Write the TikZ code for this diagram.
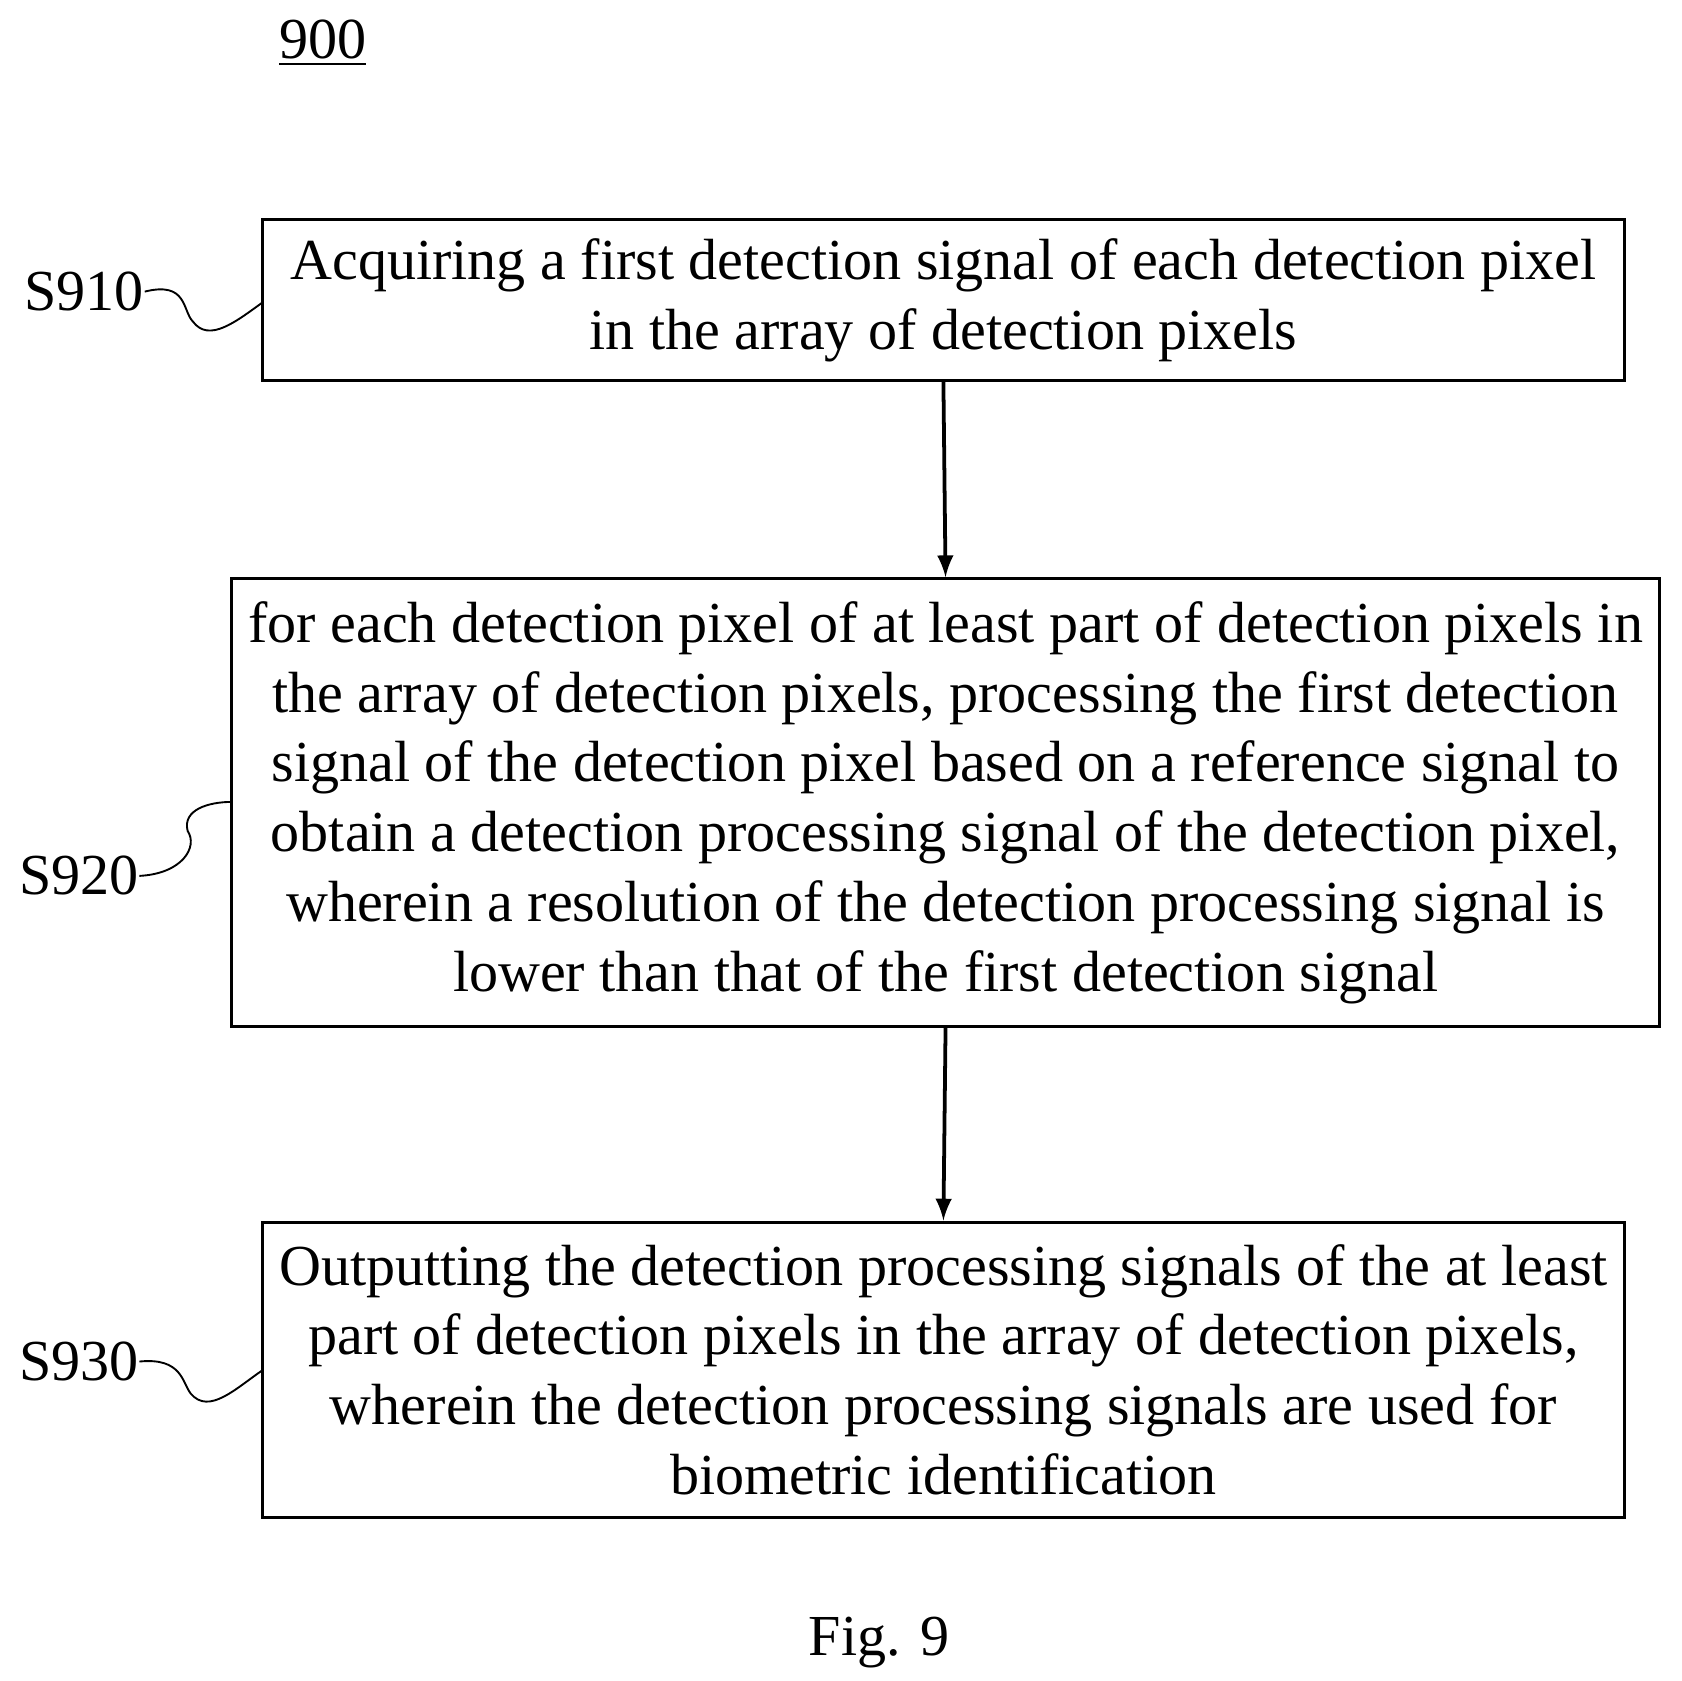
\documentclass[tikz,border=0pt]{standalone}
\usepackage{fontspec}
\setmainfont{Liberation Serif}
\begin{document}
\begin{tikzpicture}[x=0.01cm,y=-0.01cm,
  box/.style={draw,line width=0.8pt,align=center,inner sep=0pt,font=\fontsize{15.4pt}{18.5pt}\selectfont},
  lab/.style={inner sep=0pt,font=\fontsize{15.4pt}{16pt}\selectfont},
  arr/.style={-latex,line width=1pt},
  wav/.style={line width=0.5pt}]
\useasboundingbox (0,0) rectangle (1568,1568);
\node[lab] (t) at (301,40) {\underline{900}};
\node[box,minimum width=12.7cm,minimum height=1.5cm] (b1) at (880,280) {Acquiring a first detection signal of each detection pixel\\in the array of detection pixels};
\node[box,minimum width=13.32cm,minimum height=4.17cm] (b2) at (882,748.5) {for each detection pixel of at least part of detection pixels in\\the array of detection pixels, processing the first detection\\signal of the detection pixel based on a reference signal to\\obtain a detection processing signal of the detection pixel,\\wherein a resolution of the detection processing signal is\\lower than that of the first detection signal};
\node[box,minimum width=12.7cm,minimum height=2.75cm] (b3) at (880,1277.5) {Outputting the detection processing signals of the at least\\part of detection pixels in the array of detection pixels,\\wherein the detection processing signals are used for\\biometric identification};
\draw[arr] (b1.south) -- (b2.north);
\draw[arr] (b2.south) -- (b3.north);
\node[lab,anchor=east] (s1) at (135,272) {S910};
\node[lab,anchor=east] (s2) at (130,817) {S920};
\node[lab,anchor=east] (s3) at (130,1270) {S930};
\coordinate (w1) at (245,282);
\coordinate (w2) at (216,748);
\coordinate (w3) at (245,1278);
\draw[wav] (s1.east) .. controls (175,262) and (170,290) .. (180,300) .. controls (195,320) and (220,300) .. (w1);
\draw[wav] (s2.east) .. controls (170,815) and (185,790) .. (175,775) .. controls (170,755) and (195,748) .. (w2);
\draw[wav] (s3.east) .. controls (170,1266) and (170,1290) .. (178,1300) .. controls (195,1320) and (220,1295) .. (w3);
\node[lab] (f) at (820,1532) {Fig. 9};
\end{tikzpicture}
\end{document}
